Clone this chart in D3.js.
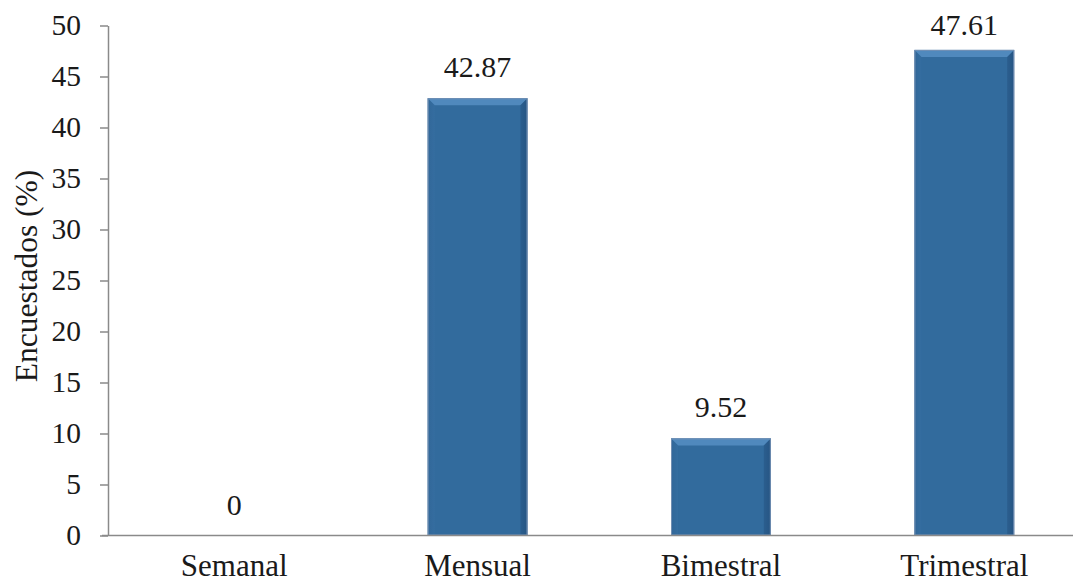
<!DOCTYPE html>
<html>
<head>
<meta charset="utf-8">
<script src="https://cdn.jsdelivr.net/npm/d3@7/dist/d3.min.js"></script>
<style>
  html, body { margin: 0; padding: 0; background: #ffffff; }
  svg { display: block; }
  svg text { font-family: "Liberation Serif", "Times New Roman", Times, "DejaVu Serif", serif !important; fill: #1a1a1a; }
</style>
</head>
<body>
<svg id="chart" width="1073" height="584"></svg>
<script>
// Frecuencia de consumo: porcentaje de encuestados
const categories = ["Semanal", "Mensual", "Bimestral", "Trimestral"];
const values = [0, 42.87, 9.52, 47.61];
const valueLabels = ["0", "42.87", "9.52", "47.61"];
const yTicks = [0, 5, 10, 15, 20, 25, 30, 35, 40, 45, 50];
const yTitle = "Encuestados (%)";

const FONT = "'Liberation Serif', 'Times New Roman', Times, 'DejaVu Serif', serif";
const svg = d3.select("#chart");
const axisX = 108, baseY = 535.5, topY = 25.5;

const x = d3.scaleBand()
  .domain(categories)
  .range([112.5, 1086])
  .paddingInner(0.59)
  .paddingOuter(0.295);

const y = d3.scaleLinear().domain([0, 50]).range([baseY, topY]);

const defs = svg.append("defs");
const g1 = defs.append("linearGradient").attr("id", "barFill")
  .attr("x1", 0).attr("x2", 1).attr("y1", 0).attr("y2", 0);
g1.append("stop").attr("offset", "0%").attr("stop-color", "#2b5f8f");
g1.append("stop").attr("offset", "7%").attr("stop-color", "#326b9d");
g1.append("stop").attr("offset", "93%").attr("stop-color", "#326b9d");
g1.append("stop").attr("offset", "100%").attr("stop-color", "#295887");

// Bars with a bevelled top edge
const bars = svg.append("g").selectAll("g.bar")
  .data(categories.map((c, i) => ({ c, v: values[i], label: valueLabels[i] })))
  .join("g").attr("class", "bar");

bars.filter(d => d.v > 0).each(function (d) {
  const gb = d3.select(this);
  const x0 = x(d.c), w = x.bandwidth();
  const y0 = y(d.v), h = baseY - y0;
  const b = 7;
  gb.append("rect")
    .attr("x", x0).attr("y", y0).attr("width", w).attr("height", h)
    .attr("fill", "url(#barFill)");
  // top bevel
  gb.append("path")
    .attr("d", `M${x0},${y0} L${x0 + w},${y0} L${x0 + w - b},${y0 + b} L${x0 + b},${y0 + b} Z`)
    .attr("fill", "#5089bd");
  // side bevels
  gb.append("path")
    .attr("d", `M${x0},${y0} L${x0 + b},${y0 + b} L${x0 + b},${baseY} L${x0},${baseY} Z`)
    .attr("fill", "#3a72a4").attr("opacity", 0.45);
  gb.append("path")
    .attr("d", `M${x0 + w},${y0} L${x0 + w - b},${y0 + b} L${x0 + w - b},${baseY} L${x0 + w},${baseY} Z`)
    .attr("fill", "#24527f").attr("opacity", 0.5);
  gb.append("rect")
    .attr("x", x0 + 0.5).attr("y", y0 + 0.5).attr("width", w - 1).attr("height", h - 1)
    .attr("fill", "none").attr("stroke", "#7390b4").attr("stroke-width", 1);
});

// Value labels
bars.append("text")
  .attr("x", d => x(d.c) + x.bandwidth() / 2)
  .attr("y", d => Math.max(y(d.v) - 21, 35))
  .attr("text-anchor", "middle")
  .attr("font-family", FONT)
  .attr("font-size", 30)
  .text(d => d.label);

// Y axis
const yAxis = d3.axisLeft(y).tickValues(yTicks).tickSize(8).tickPadding(19).tickSizeOuter(0);
const ya = svg.append("g").attr("transform", `translate(${axisX},0)`).call(yAxis)
  .attr("font-family", FONT);
ya.select(".domain").attr("stroke", "#8a8a8a").attr("stroke-width", 1.5);
ya.selectAll(".tick line").attr("stroke", "#8a8a8a").attr("stroke-width", 1.5);
ya.selectAll(".tick text").attr("font-size", 29.5).attr("fill", "#1a1a1a");

// X axis baseline and labels
const xAxis = d3.axisBottom(x).tickSize(0).tickPadding(18);
const xa = svg.append("g").attr("transform", `translate(0,${baseY})`).call(xAxis)
  .attr("font-family", FONT);
xa.select(".domain").remove();
xa.insert("line", ":first-child")
  .attr("x1", axisX - 6).attr("x2", 1073).attr("y1", 0).attr("y2", 0)
  .attr("stroke", "#8a8a8a").attr("stroke-width", 1.5);
xa.selectAll(".tick text").attr("font-size", 31).attr("fill", "#1a1a1a");

// Y axis title
svg.append("text")
  .attr("transform", "translate(37,276) rotate(-90)")
  .attr("text-anchor", "middle")
  .attr("font-family", FONT)
  .attr("font-size", 31.5)
  .text(yTitle);
</script>
</body>
</html>
